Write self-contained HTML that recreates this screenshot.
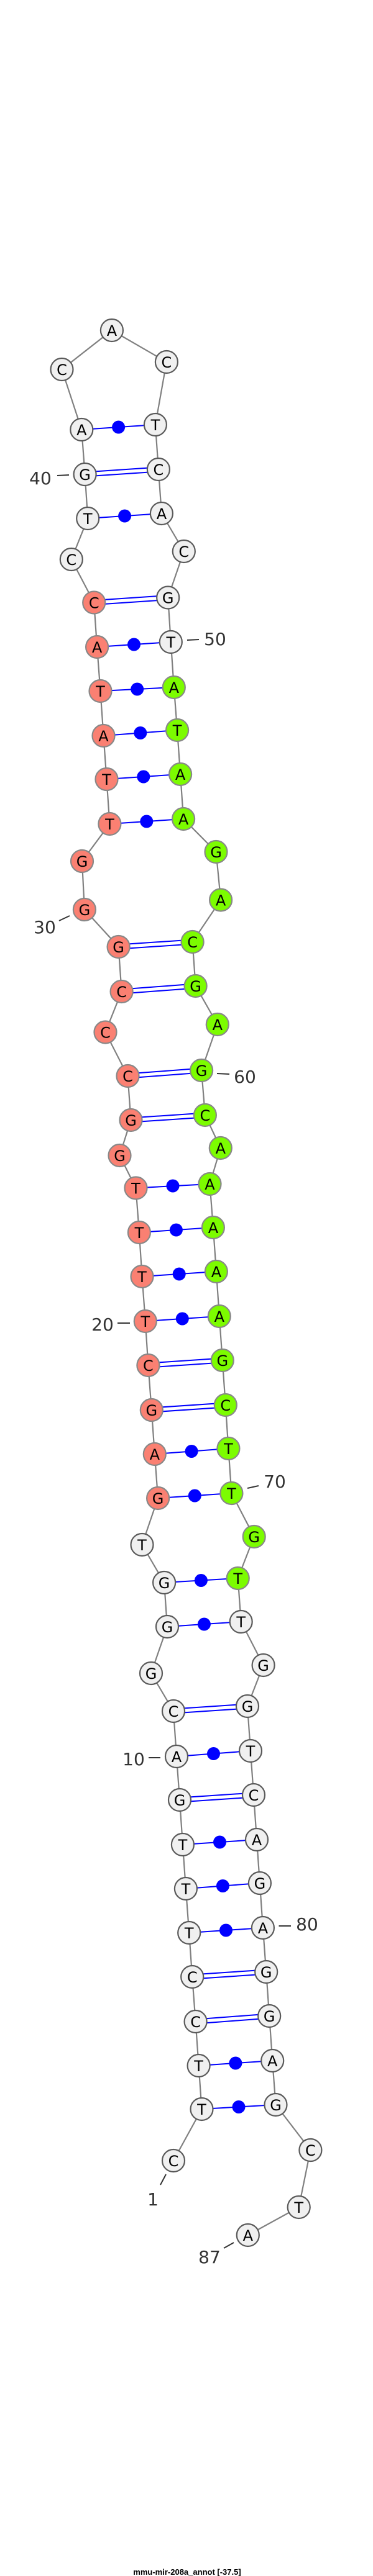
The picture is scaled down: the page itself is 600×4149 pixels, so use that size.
<!DOCTYPE html>
<html><head><meta charset="utf-8"><style>
html,body{margin:0;padding:0;background:#fff;}
svg{display:block;}
.n text{font-family:"DejaVu Sans","Liberation Sans",sans-serif;font-size:24px;text-anchor:middle;fill:#000;}
.lb{font-family:"DejaVu Sans","Liberation Sans",sans-serif;font-size:28px;text-anchor:middle;fill:#333;}
</style></head><body>
<svg width="600" height="4149" viewBox="0 0 600 4149" xmlns="http://www.w3.org/2000/svg">
<polyline fill="none" stroke="#808080" stroke-width="2.2" points="279,3480 324.5,3397 319.6,3327 314.6,3256 309.2,3184 304.2,3113 298.9,3042 293.9,2971 289,2899 284,2829 279,2756 243,2695 269,2620 264.1,2549 228.5,2488 254.1,2413 248.8,2342 243.8,2271 238.4,2199 233.8,2128 228.5,2056 223.9,1985 218.5,1913.5 192.5,1861 210.5,1804 205.5,1733 169.5,1662.5 195.6,1597 190.6,1525 135.9,1465 132,1387 176.4,1327 171.5,1255 166.5,1185 161.5,1113 156.1,1042 151.2,970.5 114.8,901 141.2,835 136.6,764 131.3,692 99.5,595 179.9,532 267.9,583 249.9,684 254.9,756 259.9,827 295.8,888 270.2,962.5 274.8,1034 279.8,1107 285.1,1176 290.1,1247 295.1,1319 347.5,1372 355.1,1449.5 309.6,1517 314.6,1588 349.8,1650 324.1,1724 329.9,1796 354.8,1849 337.5,1907 342.9,1977 347.9,2048 352.8,2120 357.8,2191 362.8,2263 367.4,2333 372.4,2405 408.7,2475 382.7,2542 387.7,2612 423.6,2682 398,2748 403,2820 408,2891 413,2963 417.9,3033 422.9,3105 428.2,3176 433.2,3247 438.2,3319 443.5,3390 499.4,3463 480.7,3555 398.8,3600"/>
<g stroke="#0000ff" stroke-width="2" fill="none">
<line x1="324.5" y1="3397" x2="443.5" y2="3390"/>
<line x1="319.6" y1="3327" x2="438.2" y2="3319"/>
<line x1="304.2" y1="3113" x2="422.9" y2="3105"/>
<line x1="298.9" y1="3042" x2="417.9" y2="3033"/>
<line x1="293.9" y1="2971" x2="413" y2="2963"/>
<line x1="284" y1="2829" x2="403" y2="2820"/>
<line x1="269" y1="2620" x2="387.7" y2="2612"/>
<line x1="264.1" y1="2549" x2="382.7" y2="2542"/>
<line x1="254.1" y1="2413" x2="372.4" y2="2405"/>
<line x1="248.8" y1="2342" x2="367.4" y2="2333"/>
<line x1="233.8" y1="2128" x2="352.8" y2="2120"/>
<line x1="228.5" y1="2056" x2="347.9" y2="2048"/>
<line x1="223.9" y1="1985" x2="342.9" y2="1977"/>
<line x1="218.5" y1="1913.5" x2="337.5" y2="1907"/>
<line x1="176.4" y1="1327" x2="295.1" y2="1319"/>
<line x1="171.5" y1="1255" x2="290.1" y2="1247"/>
<line x1="166.5" y1="1185" x2="285.1" y2="1176"/>
<line x1="161.5" y1="1113" x2="279.8" y2="1107"/>
<line x1="156.1" y1="1042" x2="274.8" y2="1034"/>
<line x1="141.2" y1="835" x2="259.9" y2="827"/>
<line x1="131.3" y1="692" x2="249.9" y2="684"/>
<line x1="314.6" y1="3252.5" x2="433.2" y2="3243.5"/><line x1="314.6" y1="3259.5" x2="433.2" y2="3250.5"/>
<line x1="309.2" y1="3180.5" x2="428.2" y2="3172.5"/><line x1="309.2" y1="3187.5" x2="428.2" y2="3179.5"/>
<line x1="289" y1="2895.5" x2="408" y2="2887.5"/><line x1="289" y1="2902.5" x2="408" y2="2894.5"/>
<line x1="279" y1="2752.5" x2="398" y2="2744.5"/><line x1="279" y1="2759.5" x2="398" y2="2751.5"/>
<line x1="243.8" y1="2267.5" x2="362.8" y2="2259.5"/><line x1="243.8" y1="2274.5" x2="362.8" y2="2266.5"/>
<line x1="238.4" y1="2195.5" x2="357.8" y2="2187.5"/><line x1="238.4" y1="2202.5" x2="357.8" y2="2194.5"/>
<line x1="210.5" y1="1800.5" x2="329.9" y2="1792.5"/><line x1="210.5" y1="1807.5" x2="329.9" y2="1799.5"/>
<line x1="205.5" y1="1729.5" x2="324.1" y2="1720.5"/><line x1="205.5" y1="1736.5" x2="324.1" y2="1727.5"/>
<line x1="195.6" y1="1593.5" x2="314.6" y2="1584.5"/><line x1="195.6" y1="1600.5" x2="314.6" y2="1591.5"/>
<line x1="190.6" y1="1521.5" x2="309.6" y2="1513.5"/><line x1="190.6" y1="1528.5" x2="309.6" y2="1520.5"/>
<line x1="151.2" y1="967" x2="270.2" y2="959"/><line x1="151.2" y1="974" x2="270.2" y2="966"/>
<line x1="136.6" y1="760.5" x2="254.9" y2="752.5"/><line x1="136.6" y1="767.5" x2="254.9" y2="759.5"/>
</g>
<g fill="#0000ff">
<circle cx="384" cy="3393.5" r="10.5"/><circle cx="378.9" cy="3323" r="10.5"/>
<circle cx="363.5" cy="3109" r="10.5"/><circle cx="358.4" cy="3037.5" r="10.5"/>
<circle cx="353.5" cy="2967" r="10.5"/><circle cx="343.5" cy="2824.5" r="10.5"/>
<circle cx="328.4" cy="2616" r="10.5"/><circle cx="323.4" cy="2545.5" r="10.5"/>
<circle cx="313.3" cy="2409" r="10.5"/><circle cx="308.1" cy="2337.5" r="10.5"/>
<circle cx="293.3" cy="2124" r="10.5"/><circle cx="288.2" cy="2052" r="10.5"/>
<circle cx="283.4" cy="1981" r="10.5"/><circle cx="278" cy="1910" r="10.5"/>
<circle cx="235.8" cy="1323" r="10.5"/><circle cx="230.8" cy="1251" r="10.5"/>
<circle cx="225.8" cy="1180.5" r="10.5"/><circle cx="220.7" cy="1110" r="10.5"/>
<circle cx="215.5" cy="1038" r="10.5"/><circle cx="200.6" cy="831" r="10.5"/>
<circle cx="190.6" cy="688" r="10.5"/>
</g>
<g stroke="#333" stroke-width="2">
<line x1="92" y1="766" x2="111" y2="765"/>
<line x1="301" y1="1031" x2="320" y2="1030"/>
<line x1="95" y1="1483" x2="112" y2="1475"/>
<line x1="349" y1="1729" x2="369" y2="1730"/>
<line x1="189" y1="2131" x2="209" y2="2131"/>
<line x1="398" y1="2397" x2="416" y2="2393"/>
<line x1="239" y1="2831" x2="258" y2="2831"/>
<line x1="448.5" y1="3102" x2="468" y2="3102"/>
<line x1="267" y1="3502" x2="258" y2="3519"/>
<line x1="360" y1="3621" x2="376" y2="3612"/>
</g>
<g class="lb">
<text class="lb" x="65" y="780">40</text>
<text class="lb" x="346" y="1039">50</text>
<text class="lb" x="72" y="1503">30</text>
<text class="lb" x="394" y="1744">60</text>
<text class="lb" x="165" y="2143">20</text>
<text class="lb" x="442" y="2396">70</text>
<text class="lb" x="215" y="2843">10</text>
<text class="lb" x="494" y="3109">80</text>
<text class="lb" x="246" y="3552">1</text>
<text class="lb" x="337" y="3645">87</text>
</g>
<g class="n" stroke-width="2.2">
<g fill="#f0f0f0" stroke="#5a5a5a">
<circle cx="279" cy="3480" r="18"/><circle cx="324.5" cy="3397" r="18"/><circle cx="319.6" cy="3327" r="18"/><circle cx="314.6" cy="3256" r="18"/><circle cx="309.2" cy="3184" r="18"/><circle cx="304.2" cy="3113" r="18"/><circle cx="298.9" cy="3042" r="18"/><circle cx="293.9" cy="2971" r="18"/><circle cx="289" cy="2899" r="18"/><circle cx="284" cy="2829" r="18"/><circle cx="279" cy="2756" r="18"/><circle cx="243" cy="2695" r="18"/><circle cx="269" cy="2620" r="18"/><circle cx="264.1" cy="2549" r="18"/><circle cx="228.5" cy="2488" r="18"/>
<circle cx="114.8" cy="901" r="18"/><circle cx="141.2" cy="835" r="18"/><circle cx="136.6" cy="764" r="18"/><circle cx="131.3" cy="692" r="18"/><circle cx="99.5" cy="595" r="18"/><circle cx="179.9" cy="532" r="18"/><circle cx="267.9" cy="583" r="18"/><circle cx="249.9" cy="684" r="18"/><circle cx="254.9" cy="756" r="18"/><circle cx="259.9" cy="827" r="18"/><circle cx="295.8" cy="888" r="18"/><circle cx="270.2" cy="962.5" r="18"/><circle cx="274.8" cy="1034" r="18"/>
<circle cx="387.7" cy="2612" r="18"/><circle cx="423.6" cy="2682" r="18"/><circle cx="398" cy="2748" r="18"/><circle cx="403" cy="2820" r="18"/><circle cx="408" cy="2891" r="18"/><circle cx="413" cy="2963" r="18"/><circle cx="417.9" cy="3033" r="18"/><circle cx="422.9" cy="3105" r="18"/><circle cx="428.2" cy="3176" r="18"/><circle cx="433.2" cy="3247" r="18"/><circle cx="438.2" cy="3319" r="18"/><circle cx="443.5" cy="3390" r="18"/><circle cx="499.4" cy="3463" r="18"/><circle cx="480.7" cy="3555" r="18"/><circle cx="398.8" cy="3600" r="18"/>
</g>
<g fill="#fa8072" stroke="#888">
<circle cx="254.1" cy="2413" r="18"/><circle cx="248.8" cy="2342" r="18"/><circle cx="243.8" cy="2271" r="18"/><circle cx="238.4" cy="2199" r="18"/><circle cx="233.8" cy="2128" r="18"/><circle cx="228.5" cy="2056" r="18"/><circle cx="223.9" cy="1985" r="18"/><circle cx="218.5" cy="1913.5" r="18"/><circle cx="192.5" cy="1861" r="18"/><circle cx="210.5" cy="1804" r="18"/><circle cx="205.5" cy="1733" r="18"/><circle cx="169.5" cy="1662.5" r="18"/><circle cx="195.6" cy="1597" r="18"/><circle cx="190.6" cy="1525" r="18"/><circle cx="135.9" cy="1465" r="18"/><circle cx="132" cy="1387" r="18"/><circle cx="176.4" cy="1327" r="18"/><circle cx="171.5" cy="1255" r="18"/><circle cx="166.5" cy="1185" r="18"/><circle cx="161.5" cy="1113" r="18"/><circle cx="156.1" cy="1042" r="18"/><circle cx="151.2" cy="970.5" r="18"/>
</g>
<g fill="#7cfc00" stroke="#888">
<circle cx="279.8" cy="1107" r="18"/><circle cx="285.1" cy="1176" r="18"/><circle cx="290.1" cy="1247" r="18"/><circle cx="295.1" cy="1319" r="18"/><circle cx="347.5" cy="1372" r="18"/><circle cx="355.1" cy="1449.5" r="18"/><circle cx="309.6" cy="1517" r="18"/><circle cx="314.6" cy="1588" r="18"/><circle cx="349.8" cy="1650" r="18"/><circle cx="324.1" cy="1724" r="18"/><circle cx="329.9" cy="1796" r="18"/><circle cx="354.8" cy="1849" r="18"/><circle cx="337.5" cy="1907" r="18"/><circle cx="342.9" cy="1977" r="18"/><circle cx="347.9" cy="2048" r="18"/><circle cx="352.8" cy="2120" r="18"/><circle cx="357.8" cy="2191" r="18"/><circle cx="362.8" cy="2263" r="18"/><circle cx="367.4" cy="2333" r="18"/><circle cx="372.4" cy="2405" r="18"/><circle cx="408.7" cy="2475" r="18"/><circle cx="382.7" cy="2542" r="18"/>
</g>
<text x="279" y="3489">C</text><text x="324.5" y="3406">T</text><text x="319.6" y="3336">T</text><text x="314.6" y="3265">C</text><text x="309.2" y="3193">C</text><text x="304.2" y="3122">T</text><text x="298.9" y="3051">T</text><text x="293.9" y="2980">T</text><text x="289" y="2908">G</text><text x="284" y="2838">A</text><text x="279" y="2765">C</text><text x="243" y="2704">G</text><text x="269" y="2629">G</text><text x="264.1" y="2558">G</text><text x="228.5" y="2497">T</text>
<text x="254.1" y="2422">G</text><text x="248.8" y="2351">A</text><text x="243.8" y="2280">G</text><text x="238.4" y="2208">C</text><text x="233.8" y="2137">T</text><text x="228.5" y="2065">T</text><text x="223.9" y="1994">T</text><text x="218.5" y="1922.5">T</text><text x="192.5" y="1870">G</text><text x="210.5" y="1813">G</text><text x="205.5" y="1742">C</text><text x="169.5" y="1671.5">C</text><text x="195.6" y="1606">C</text><text x="190.6" y="1534">G</text><text x="135.9" y="1474">G</text><text x="132" y="1396">G</text><text x="176.4" y="1336">T</text><text x="171.5" y="1264">T</text><text x="166.5" y="1194">A</text><text x="161.5" y="1122">T</text><text x="156.1" y="1051">A</text><text x="151.2" y="979.5">C</text>
<text x="114.8" y="910">C</text><text x="141.2" y="844">T</text><text x="136.6" y="773">G</text><text x="131.3" y="701">A</text><text x="99.5" y="604">C</text><text x="179.9" y="541">A</text><text x="267.9" y="592">C</text><text x="249.9" y="693">T</text><text x="254.9" y="765">C</text><text x="259.9" y="836">A</text><text x="295.8" y="897">C</text><text x="270.2" y="971.5">G</text><text x="274.8" y="1043">T</text>
<text x="279.8" y="1116">A</text><text x="285.1" y="1185">T</text><text x="290.1" y="1256">A</text><text x="295.1" y="1328">A</text><text x="347.5" y="1381">G</text><text x="355.1" y="1458.5">A</text><text x="309.6" y="1526">C</text><text x="314.6" y="1597">G</text><text x="349.8" y="1659">A</text><text x="324.1" y="1733">G</text><text x="329.9" y="1805">C</text><text x="354.8" y="1858">A</text><text x="337.5" y="1916">A</text><text x="342.9" y="1986">A</text><text x="347.9" y="2057">A</text><text x="352.8" y="2129">A</text><text x="357.8" y="2200">G</text><text x="362.8" y="2272">C</text><text x="367.4" y="2342">T</text><text x="372.4" y="2414">T</text><text x="408.7" y="2484">G</text><text x="382.7" y="2551">T</text>
<text x="387.7" y="2621">T</text><text x="423.6" y="2691">G</text><text x="398" y="2757">G</text><text x="403" y="2829">T</text><text x="408" y="2900">C</text><text x="413" y="2972">A</text><text x="417.9" y="3042">G</text><text x="422.9" y="3114">A</text><text x="428.2" y="3185">G</text><text x="433.2" y="3256">G</text><text x="438.2" y="3328">A</text><text x="443.5" y="3399">G</text><text x="499.4" y="3472">C</text><text x="480.7" y="3564">T</text><text x="398.8" y="3609">A</text>
</g>
<text x="301" y="4147" style="font-family:'Liberation Sans',sans-serif;font-size:13px;font-weight:bold;text-anchor:middle;fill:#000">mmu-mir-208a_annot [-37.5]</text>
</svg>
</body></html>
